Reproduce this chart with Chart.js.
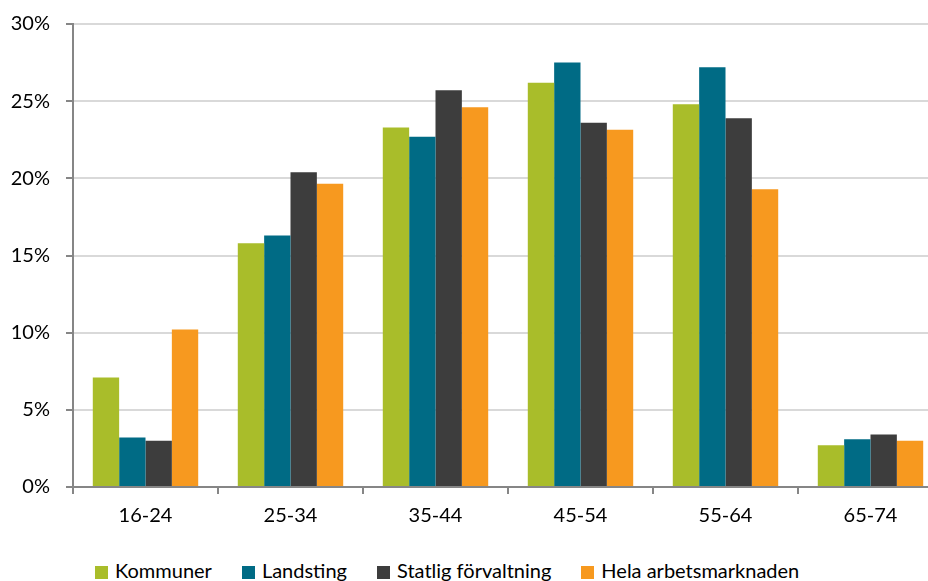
<!DOCTYPE html>
<html>
<head>
<meta charset="utf-8">
<script src="https://cdn.jsdelivr.net/npm/chart.js@4/dist/chart.umd.min.js"></script>
<style>
  html, body { margin: 0; padding: 0; background: #fff; overflow: hidden; }
  #wrap { position: relative; width: 928px; height: 581px; overflow: hidden; }
  #box { position: absolute; left: 0; top: -4px; width: 946px; height: 542px; }
  #legend { position: absolute; left: 95px; top: 560px; display: flex; gap: 30px;
            font-family: Lato, sans-serif; font-size: 20px; color: #000; line-height: 20px; }
  #legend span.item { display: flex; align-items: center; white-space: nowrap; }
  #legend i { display: inline-block; width: 13px; height: 13px; margin-right: 7px; margin-top: 4px; }
</style>
</head>
<body>
<div id="wrap">
  <div id="box"><canvas id="chart"></canvas></div>
  <div id="legend"></div>
</div>
<script>
// åldersgrupper
const categories = ['16-24', '25-34', '35-44', '45-54', '55-64', '65-74'];

// andel anställda i procent
const kommuner = [7.1, 15.8, 23.3, 26.2, 24.8, 2.7];
const landsting = [3.2, 16.3, 22.7, 27.5, 27.2, 3.1];
const statlig = [3.0, 20.4, 25.7, 23.6, 23.9, 3.4];
const helaArbetsmarknaden = [10.2, 19.65, 24.6, 23.15, 19.3, 3.0];

const yTicks = [0, 5, 10, 15, 20, 25, 30];

const series = [
  { label: 'Kommuner', data: kommuner, color: '#A9BD2A' },
  { label: 'Landsting', data: landsting, color: '#006B85' },
  { label: 'Statlig förvaltning', data: statlig, color: '#3D3D3D' },
  { label: 'Hela arbetsmarknaden', data: helaArbetsmarknaden, color: '#F7991F' },
];

Chart.defaults.font.family = 'Lato, sans-serif';
Chart.defaults.font.size = 20;
Chart.defaults.color = '#000';

new Chart(document.querySelector('#chart'), {
  type: 'bar',
  data: {
    labels: categories,
    datasets: series.map((s) => ({
      label: s.label,
      data: s.data,
      backgroundColor: s.color,
      borderWidth: 0,
      categoryPercentage: 0.727,
      barPercentage: 1,
    })),
  },
  options: {
    responsive: true,
    maintainAspectRatio: false,
    animation: false,
    layout: { padding: { top: 6, right: 3, left: 0, bottom: 0 } },
    plugins: {
      legend: { display: false },
      tooltip: { enabled: false },
    },
    scales: {
      x: {
        grid: { drawOnChartArea: false, tickLength: 7, tickColor: '#868686', lineWidth: 2 },
        border: { color: '#868686', width: 2 },
        ticks: { padding: 10 },
      },
      y: {
        min: 0,
        max: 30,
        afterBuildTicks: (axis) => { axis.ticks = yTicks.map((v) => ({ value: v })); },
        afterFit: (axis) => { axis.width = 73; },
        grid: { color: '#D9D9D9', lineWidth: 2, tickLength: 7, tickColor: '#868686' },
        border: { color: '#868686', width: 2 },
        ticks: { padding: 16, callback: (v) => v + '%' },
      },
    },
  },
});

// förklaring
document.querySelector('#legend').innerHTML = series
  .map((s) => `<span class="item"><i style="background:${s.color}"></i>${s.label}</span>`)
  .join('');
</script>
</body>
</html>
